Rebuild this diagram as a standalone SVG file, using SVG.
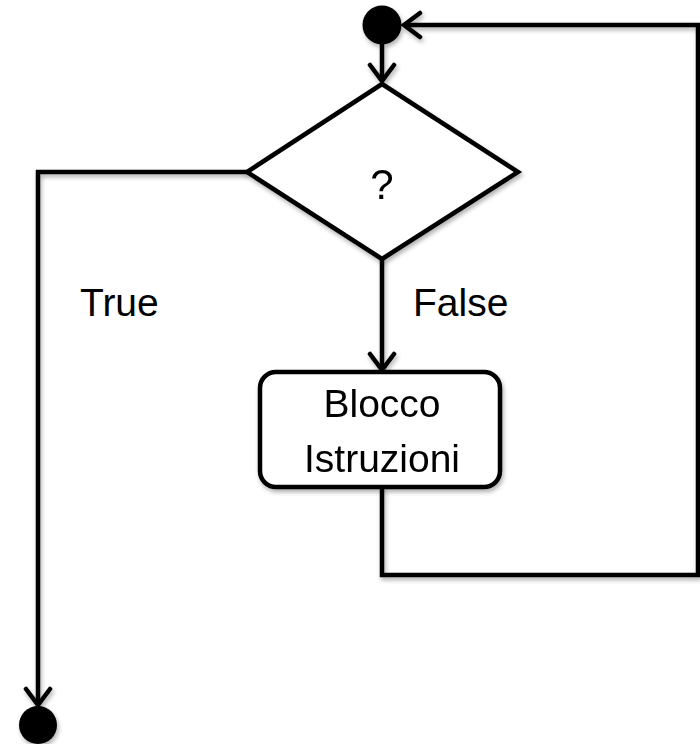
<svg xmlns="http://www.w3.org/2000/svg" width="700" height="744" viewBox="0 0 700 744">
  <defs>
    <filter id="sh" x="-20%" y="-20%" width="140%" height="140%">
      <feDropShadow dx="1.5" dy="3" stdDeviation="2" flood-color="#000" flood-opacity="0.3"/>
    </filter>
    <marker id="arr" markerUnits="userSpaceOnUse" viewBox="-20 -15 24 30" markerWidth="24" markerHeight="30" refX="0" refY="0" orient="auto">
      <path d="M-16,-12 L0,0 L-16,12" fill="none" stroke="#000" stroke-width="4.5" stroke-linecap="round" stroke-linejoin="miter"/>
    </marker>
  </defs>
  <style>
    .ln { fill: none; stroke: #000; stroke-width: 4.5; stroke-linejoin: miter; }
    .shape { fill: #fff; stroke: #000; stroke-width: 4.5; }
    .dot { fill: #000; }
    .t { font-family: "Liberation Sans", Arial, sans-serif; font-size: 39px; fill: #000; }
    .q { font-family: "Liberation Sans", Arial, sans-serif; font-size: 42px; fill: #000; }
  </style>
  <rect width="700" height="744" fill="#fff"/>
  <g id="connectors" filter="url(#sh)">
    <path class="ln" d="M382,487 L382,575 L698,575 L698,25 L404,25" marker-end="url(#arr)"/>
    <path class="ln" d="M382,44 L382,81" marker-end="url(#arr)"/>
    <path class="ln" d="M382,259 L382,370" marker-end="url(#arr)"/>
    <path class="ln" d="M247,172 L38,172 L38,705" marker-end="url(#arr)"/>
  </g>
  <g id="start" filter="url(#sh)">
    <circle class="dot" cx="382" cy="25" r="19.5"/>
  </g>
  <g id="decision" filter="url(#sh)">
    <polygon class="shape" points="382,84 518,172 382,259 247,172"/>
    <text class="q" x="382" y="199" text-anchor="middle">?</text>
  </g>
  <g id="block" filter="url(#sh)">
    <rect class="shape" x="260" y="372" width="240" height="115" rx="16" ry="16"/>
    <text class="t" x="382" y="417" text-anchor="middle">Blocco</text>
    <text class="t" x="382" y="472" text-anchor="middle">Istruzioni</text>
  </g>
  <g id="end" filter="url(#sh)">
    <circle class="dot" cx="38" cy="725" r="19"/>
  </g>
  <g id="labels">
    <text class="t" x="80" y="316">True</text>
    <text class="t" x="413" y="316">False</text>
  </g>
</svg>
